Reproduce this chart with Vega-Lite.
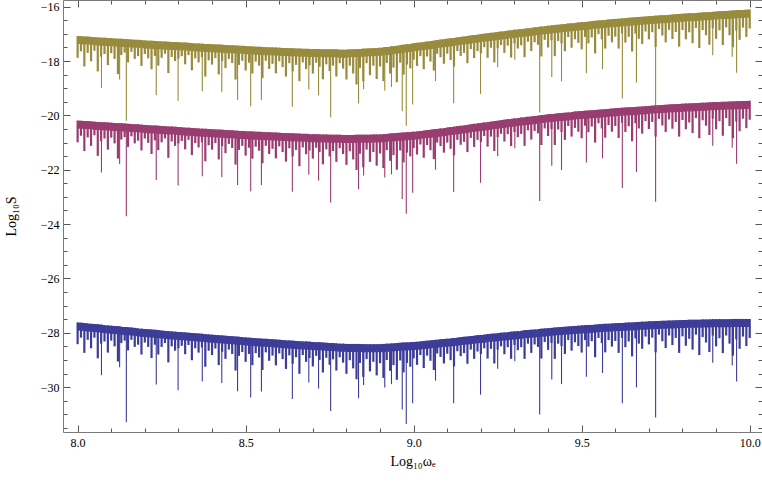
{
"$schema": "https://vega.github.io/schema/vega-lite/v6.json",
"width": 699, "height": 432,
"autosize": {"type": "none"},
"padding": {"left": 63, "top": 0, "right": 0, "bottom": 54},
"background": "white",
"config": {"view": {"stroke": null}, "axis": {"grid": false, "labelFont": "Liberation Serif", "titleFont": "Liberation Serif", "labelFontSize": 12, "titleFontSize": 14, "titleFontWeight": "normal", "labelColor": "#000", "titleColor": "#000", "domainColor": "#7a7a7a", "tickColor": "#555", "labelFlush": false, "labelOverlap": false}},
"datasets": {
"band": [
{"x":8.00,"g":-17.08,"gd":-17.88,"p":-20.19,"pd":-20.99,"b":-27.62,"bd":-28.42},
{"x":8.01,"g":-17.09,"gd":-17.64,"p":-20.20,"pd":-20.75,"b":-27.63,"bd":-28.18},
{"x":8.02,"g":-17.10,"gd":-18.20,"p":-20.21,"pd":-21.31,"b":-27.64,"bd":-28.74},
{"x":8.03,"g":-17.10,"gd":-17.70,"p":-20.21,"pd":-20.81,"b":-27.66,"bd":-28.26},
{"x":8.04,"g":-17.11,"gd":-18.01,"p":-20.22,"pd":-21.12,"b":-27.67,"bd":-28.57},
{"x":8.05,"g":-17.12,"gd":-17.62,"p":-20.23,"pd":-20.73,"b":-27.68,"bd":-28.18},
{"x":8.06,"g":-17.13,"gd":-18.38,"p":-20.24,"pd":-21.49,"b":-27.69,"bd":-28.94},
{"x":8.07,"g":-17.14,"gd":-17.84,"p":-20.25,"pd":-20.95,"b":-27.70,"bd":-28.40},
{"x":8.08,"g":-17.14,"gd":-17.74,"p":-20.25,"pd":-20.85,"b":-27.72,"bd":-28.32},
{"x":8.09,"g":-17.15,"gd":-18.15,"p":-20.26,"pd":-21.26,"b":-27.73,"bd":-28.73},
{"x":8.10,"g":-17.16,"gd":-17.71,"p":-20.27,"pd":-20.82,"b":-27.74,"bd":-28.29},
{"x":8.11,"g":-17.17,"gd":-17.92,"p":-20.28,"pd":-21.03,"b":-27.75,"bd":-28.50},
{"x":8.12,"g":-17.18,"gd":-18.48,"p":-20.29,"pd":-21.59,"b":-27.76,"bd":-29.06},
{"x":8.13,"g":-17.18,"gd":-17.78,"p":-20.29,"pd":-20.89,"b":-27.78,"bd":-28.38},
{"x":8.14,"g":-17.19,"gd":-17.69,"p":-20.30,"pd":-20.80,"b":-27.79,"bd":-28.29},
{"x":8.15,"g":-17.20,"gd":-18.05,"p":-20.31,"pd":-21.16,"b":-27.80,"bd":-28.65},
{"x":8.16,"g":-17.21,"gd":-17.66,"p":-20.32,"pd":-20.77,"b":-27.81,"bd":-28.26},
{"x":8.17,"g":-17.22,"gd":-17.92,"p":-20.33,"pd":-21.03,"b":-27.82,"bd":-28.52},
{"x":8.18,"g":-17.22,"gd":-17.82,"p":-20.33,"pd":-20.93,"b":-27.84,"bd":-28.44},
{"x":8.19,"g":-17.23,"gd":-18.18,"p":-20.34,"pd":-21.29,"b":-27.85,"bd":-28.80},
{"x":8.20,"g":-17.24,"gd":-17.74,"p":-20.35,"pd":-20.85,"b":-27.86,"bd":-28.36},
{"x":8.21,"g":-17.25,"gd":-17.90,"p":-20.36,"pd":-21.01,"b":-27.87,"bd":-28.52},
{"x":8.22,"g":-17.25,"gd":-18.30,"p":-20.37,"pd":-21.42,"b":-27.88,"bd":-28.93},
{"x":8.23,"g":-17.26,"gd":-17.81,"p":-20.37,"pd":-20.92,"b":-27.89,"bd":-28.44},
{"x":8.24,"g":-17.27,"gd":-18.17,"p":-20.38,"pd":-21.28,"b":-27.90,"bd":-28.80},
{"x":8.25,"g":-17.28,"gd":-17.88,"p":-20.39,"pd":-20.99,"b":-27.92,"bd":-28.52},
{"x":8.26,"g":-17.28,"gd":-17.73,"p":-20.40,"pd":-20.85,"b":-27.93,"bd":-28.38},
{"x":8.27,"g":-17.29,"gd":-18.44,"p":-20.41,"pd":-21.56,"b":-27.94,"bd":-29.09},
{"x":8.28,"g":-17.30,"gd":-17.85,"p":-20.41,"pd":-20.96,"b":-27.95,"bd":-28.50},
{"x":8.29,"g":-17.30,"gd":-18.00,"p":-20.42,"pd":-21.12,"b":-27.96,"bd":-28.66},
{"x":8.30,"g":-17.31,"gd":-17.91,"p":-20.43,"pd":-21.03,"b":-27.97,"bd":-28.57},
{"x":8.31,"g":-17.32,"gd":-17.82,"p":-20.44,"pd":-20.94,"b":-27.98,"bd":-28.48},
{"x":8.32,"g":-17.32,"gd":-18.12,"p":-20.45,"pd":-21.25,"b":-27.99,"bd":-28.79},
{"x":8.33,"g":-17.33,"gd":-17.78,"p":-20.45,"pd":-20.90,"b":-28.00,"bd":-28.45},
{"x":8.34,"g":-17.34,"gd":-18.34,"p":-20.46,"pd":-21.46,"b":-28.01,"bd":-29.01},
{"x":8.35,"g":-17.35,"gd":-17.90,"p":-20.47,"pd":-21.02,"b":-28.02,"bd":-28.57},
{"x":8.36,"g":-17.35,"gd":-18.05,"p":-20.48,"pd":-21.18,"b":-28.03,"bd":-28.73},
{"x":8.37,"g":-17.36,"gd":-17.86,"p":-20.49,"pd":-20.99,"b":-28.04,"bd":-28.54},
{"x":8.38,"g":-17.37,"gd":-18.57,"p":-20.49,"pd":-21.69,"b":-28.05,"bd":-29.25},
{"x":8.39,"g":-17.37,"gd":-17.97,"p":-20.50,"pd":-21.10,"b":-28.06,"bd":-28.66},
{"x":8.40,"g":-17.38,"gd":-18.13,"p":-20.51,"pd":-21.26,"b":-28.07,"bd":-28.82},
{"x":8.41,"g":-17.39,"gd":-17.89,"p":-20.52,"pd":-21.02,"b":-28.08,"bd":-28.58},
{"x":8.42,"g":-17.39,"gd":-18.49,"p":-20.52,"pd":-21.62,"b":-28.09,"bd":-29.19},
{"x":8.43,"g":-17.40,"gd":-18.00,"p":-20.53,"pd":-21.13,"b":-28.10,"bd":-28.70},
{"x":8.44,"g":-17.41,"gd":-18.26,"p":-20.54,"pd":-21.39,"b":-28.11,"bd":-28.96},
{"x":8.45,"g":-17.42,"gd":-17.92,"p":-20.55,"pd":-21.05,"b":-28.12,"bd":-28.62},
{"x":8.46,"g":-17.42,"gd":-18.07,"p":-20.55,"pd":-21.20,"b":-28.13,"bd":-28.78},
{"x":8.47,"g":-17.43,"gd":-18.68,"p":-20.56,"pd":-21.81,"b":-28.14,"bd":-29.39},
{"x":8.48,"g":-17.44,"gd":-18.14,"p":-20.57,"pd":-21.27,"b":-28.15,"bd":-28.85},
{"x":8.49,"g":-17.44,"gd":-17.99,"p":-20.57,"pd":-21.12,"b":-28.16,"bd":-28.71},
{"x":8.50,"g":-17.45,"gd":-18.35,"p":-20.58,"pd":-21.48,"b":-28.17,"bd":-29.07},
{"x":8.51,"g":-17.46,"gd":-18.06,"p":-20.59,"pd":-21.19,"b":-28.18,"bd":-28.78},
{"x":8.52,"g":-17.46,"gd":-18.46,"p":-20.59,"pd":-21.59,"b":-28.19,"bd":-29.19},
{"x":8.53,"g":-17.47,"gd":-18.02,"p":-20.60,"pd":-21.15,"b":-28.20,"bd":-28.75},
{"x":8.54,"g":-17.47,"gd":-18.17,"p":-20.60,"pd":-21.30,"b":-28.21,"bd":-28.91},
{"x":8.55,"g":-17.48,"gd":-18.63,"p":-20.61,"pd":-21.76,"b":-28.22,"bd":-29.37},
{"x":8.56,"g":-17.49,"gd":-17.99,"p":-20.62,"pd":-21.12,"b":-28.22,"bd":-28.72},
{"x":8.57,"g":-17.49,"gd":-18.29,"p":-20.62,"pd":-21.42,"b":-28.23,"bd":-29.03},
{"x":8.58,"g":-17.50,"gd":-18.10,"p":-20.63,"pd":-21.23,"b":-28.24,"bd":-28.84},
{"x":8.59,"g":-17.50,"gd":-18.45,"p":-20.63,"pd":-21.58,"b":-28.25,"bd":-29.20},
{"x":8.60,"g":-17.51,"gd":-18.01,"p":-20.64,"pd":-21.14,"b":-28.26,"bd":-28.76},
{"x":8.61,"g":-17.52,"gd":-18.22,"p":-20.65,"pd":-21.35,"b":-28.27,"bd":-28.97},
{"x":8.62,"g":-17.52,"gd":-18.57,"p":-20.65,"pd":-21.70,"b":-28.28,"bd":-29.33},
{"x":8.63,"g":-17.53,"gd":-18.08,"p":-20.66,"pd":-21.21,"b":-28.28,"bd":-28.83},
{"x":8.64,"g":-17.53,"gd":-18.38,"p":-20.66,"pd":-21.51,"b":-28.29,"bd":-29.14},
{"x":8.65,"g":-17.54,"gd":-18.14,"p":-20.67,"pd":-21.27,"b":-28.30,"bd":-28.90},
{"x":8.66,"g":-17.54,"gd":-18.74,"p":-20.67,"pd":-21.87,"b":-28.31,"bd":-29.51},
{"x":8.67,"g":-17.55,"gd":-18.05,"p":-20.68,"pd":-21.18,"b":-28.32,"bd":-28.82},
{"x":8.68,"g":-17.55,"gd":-18.30,"p":-20.68,"pd":-21.43,"b":-28.32,"bd":-29.07},
{"x":8.69,"g":-17.56,"gd":-18.16,"p":-20.69,"pd":-21.29,"b":-28.33,"bd":-28.93},
{"x":8.70,"g":-17.56,"gd":-18.46,"p":-20.69,"pd":-21.59,"b":-28.34,"bd":-29.24},
{"x":8.71,"g":-17.56,"gd":-18.06,"p":-20.69,"pd":-21.19,"b":-28.35,"bd":-28.85},
{"x":8.72,"g":-17.56,"gd":-18.21,"p":-20.70,"pd":-21.35,"b":-28.35,"bd":-29.00},
{"x":8.73,"g":-17.57,"gd":-18.67,"p":-20.70,"pd":-21.80,"b":-28.36,"bd":-29.46},
{"x":8.74,"g":-17.57,"gd":-18.12,"p":-20.70,"pd":-21.25,"b":-28.37,"bd":-28.92},
{"x":8.75,"g":-17.57,"gd":-18.37,"p":-20.71,"pd":-21.51,"b":-28.38,"bd":-29.18},
{"x":8.76,"g":-17.57,"gd":-18.17,"p":-20.71,"pd":-21.31,"b":-28.38,"bd":-28.98},
{"x":8.77,"g":-17.57,"gd":-18.57,"p":-20.71,"pd":-21.71,"b":-28.39,"bd":-29.39},
{"x":8.78,"g":-17.58,"gd":-18.08,"p":-20.71,"pd":-21.21,"b":-28.40,"bd":-28.90},
{"x":8.79,"g":-17.58,"gd":-18.28,"p":-20.72,"pd":-21.42,"b":-28.40,"bd":-29.10},
{"x":8.80,"g":-17.58,"gd":-18.68,"p":-20.72,"pd":-21.82,"b":-28.41,"bd":-29.51},
{"x":8.81,"g":-17.57,"gd":-18.17,"p":-20.72,"pd":-21.32,"b":-28.41,"bd":-29.01},
{"x":8.82,"g":-17.57,"gd":-18.46,"p":-20.72,"pd":-21.62,"b":-28.41,"bd":-29.31},
{"x":8.83,"g":-17.56,"gd":-18.86,"p":-20.71,"pd":-22.01,"b":-28.41,"bd":-29.71},
{"x":8.84,"g":-17.56,"gd":-18.25,"p":-20.71,"pd":-21.41,"b":-28.41,"bd":-29.11},
{"x":8.85,"g":-17.55,"gd":-18.74,"p":-20.71,"pd":-21.91,"b":-28.42,"bd":-29.62},
{"x":8.86,"g":-17.54,"gd":-18.08,"p":-20.71,"pd":-21.26,"b":-28.42,"bd":-28.97},
{"x":8.87,"g":-17.53,"gd":-18.52,"p":-20.71,"pd":-21.71,"b":-28.42,"bd":-29.42},
{"x":8.88,"g":-17.53,"gd":-18.17,"p":-20.70,"pd":-21.35,"b":-28.42,"bd":-29.07},
{"x":8.89,"g":-17.52,"gd":-18.66,"p":-20.70,"pd":-21.85,"b":-28.42,"bd":-29.57},
{"x":8.90,"g":-17.51,"gd":-18.20,"p":-20.70,"pd":-21.40,"b":-28.42,"bd":-29.12},
{"x":8.91,"g":-17.50,"gd":-18.74,"p":-20.69,"pd":-21.94,"b":-28.41,"bd":-29.66},
{"x":8.92,"g":-17.48,"gd":-18.07,"p":-20.68,"pd":-21.28,"b":-28.40,"bd":-29.00},
{"x":8.93,"g":-17.47,"gd":-18.46,"p":-20.67,"pd":-21.67,"b":-28.40,"bd":-29.40},
{"x":8.94,"g":-17.45,"gd":-18.24,"p":-20.66,"pd":-21.46,"b":-28.39,"bd":-29.19},
{"x":8.95,"g":-17.44,"gd":-18.78,"p":-20.65,"pd":-22.00,"b":-28.38,"bd":-29.73},
{"x":8.96,"g":-17.42,"gd":-18.06,"p":-20.64,"pd":-21.29,"b":-28.37,"bd":-29.02},
{"x":8.97,"g":-17.40,"gd":-18.50,"p":-20.63,"pd":-21.73,"b":-28.36,"bd":-29.46},
{"x":8.98,"g":-17.38,"gd":-18.13,"p":-20.62,"pd":-21.37,"b":-28.36,"bd":-29.11},
{"x":8.99,"g":-17.37,"gd":-18.27,"p":-20.61,"pd":-21.51,"b":-28.35,"bd":-29.25},
{"x":9.00,"g":-17.35,"gd":-17.95,"p":-20.60,"pd":-21.20,"b":-28.34,"bd":-28.94},
{"x":9.01,"g":-17.33,"gd":-18.18,"p":-20.59,"pd":-21.44,"b":-28.33,"bd":-29.18},
{"x":9.02,"g":-17.32,"gd":-17.82,"p":-20.57,"pd":-21.07,"b":-28.32,"bd":-28.82},
{"x":9.03,"g":-17.30,"gd":-18.30,"p":-20.56,"pd":-21.56,"b":-28.30,"bd":-29.30},
{"x":9.04,"g":-17.28,"gd":-17.83,"p":-20.54,"pd":-21.09,"b":-28.29,"bd":-28.84},
{"x":9.05,"g":-17.27,"gd":-18.02,"p":-20.53,"pd":-21.28,"b":-28.28,"bd":-29.03},
{"x":9.06,"g":-17.25,"gd":-18.35,"p":-20.51,"pd":-21.61,"b":-28.27,"bd":-29.37},
{"x":9.07,"g":-17.23,"gd":-17.73,"p":-20.50,"pd":-21.00,"b":-28.26,"bd":-28.76},
{"x":9.08,"g":-17.21,"gd":-17.86,"p":-20.48,"pd":-21.13,"b":-28.24,"bd":-28.89},
{"x":9.09,"g":-17.20,"gd":-18.10,"p":-20.47,"pd":-21.37,"b":-28.23,"bd":-29.13},
{"x":9.10,"g":-17.18,"gd":-17.73,"p":-20.45,"pd":-21.00,"b":-28.22,"bd":-28.77},
{"x":9.11,"g":-17.16,"gd":-17.96,"p":-20.43,"pd":-21.23,"b":-28.21,"bd":-29.01},
{"x":9.12,"g":-17.15,"gd":-18.20,"p":-20.42,"pd":-21.47,"b":-28.19,"bd":-29.24},
{"x":9.13,"g":-17.13,"gd":-17.63,"p":-20.40,"pd":-20.90,"b":-28.18,"bd":-28.68},
{"x":9.14,"g":-17.11,"gd":-17.81,"p":-20.38,"pd":-21.08,"b":-28.16,"bd":-28.86},
{"x":9.15,"g":-17.10,"gd":-17.70,"p":-20.37,"pd":-20.97,"b":-28.15,"bd":-28.75},
{"x":9.16,"g":-17.08,"gd":-18.08,"p":-20.35,"pd":-21.35,"b":-28.14,"bd":-29.14},
{"x":9.17,"g":-17.06,"gd":-17.56,"p":-20.33,"pd":-20.83,"b":-28.12,"bd":-28.62},
{"x":9.18,"g":-17.04,"gd":-17.89,"p":-20.31,"pd":-21.16,"b":-28.11,"bd":-28.96},
{"x":9.19,"g":-17.03,"gd":-17.63,"p":-20.30,"pd":-20.90,"b":-28.09,"bd":-28.69},
{"x":9.20,"g":-17.01,"gd":-17.71,"p":-20.28,"pd":-20.98,"b":-28.08,"bd":-28.78},
{"x":9.21,"g":-16.99,"gd":-17.49,"p":-20.26,"pd":-20.76,"b":-28.07,"bd":-28.57},
{"x":9.22,"g":-16.98,"gd":-17.88,"p":-20.25,"pd":-21.15,"b":-28.05,"bd":-28.95},
{"x":9.23,"g":-16.96,"gd":-17.51,"p":-20.23,"pd":-20.78,"b":-28.04,"bd":-28.59},
{"x":9.24,"g":-16.95,"gd":-18.05,"p":-20.21,"pd":-21.31,"b":-28.03,"bd":-29.13},
{"x":9.25,"g":-16.93,"gd":-17.53,"p":-20.20,"pd":-20.80,"b":-28.02,"bd":-28.62},
{"x":9.26,"g":-16.91,"gd":-17.41,"p":-20.18,"pd":-20.68,"b":-28.00,"bd":-28.50},
{"x":9.27,"g":-16.90,"gd":-17.70,"p":-20.16,"pd":-20.96,"b":-27.99,"bd":-28.79},
{"x":9.28,"g":-16.88,"gd":-17.43,"p":-20.14,"pd":-20.69,"b":-27.98,"bd":-28.53},
{"x":9.29,"g":-16.87,"gd":-17.87,"p":-20.13,"pd":-21.13,"b":-27.96,"bd":-28.96},
{"x":9.30,"g":-16.85,"gd":-17.35,"p":-20.11,"pd":-20.61,"b":-27.95,"bd":-28.45},
{"x":9.31,"g":-16.84,"gd":-17.54,"p":-20.10,"pd":-20.80,"b":-27.94,"bd":-28.64},
{"x":9.32,"g":-16.82,"gd":-17.42,"p":-20.08,"pd":-20.68,"b":-27.93,"bd":-28.53},
{"x":9.33,"g":-16.81,"gd":-17.86,"p":-20.07,"pd":-21.12,"b":-27.91,"bd":-28.96},
{"x":9.34,"g":-16.79,"gd":-17.29,"p":-20.05,"pd":-20.55,"b":-27.90,"bd":-28.40},
{"x":9.35,"g":-16.78,"gd":-17.63,"p":-20.04,"pd":-20.89,"b":-27.89,"bd":-28.74},
{"x":9.36,"g":-16.76,"gd":-17.31,"p":-20.02,"pd":-20.57,"b":-27.88,"bd":-28.43},
{"x":9.37,"g":-16.75,"gd":-17.40,"p":-20.01,"pd":-20.66,"b":-27.87,"bd":-28.52},
{"x":9.38,"g":-16.73,"gd":-17.83,"p":-19.99,"pd":-21.09,"b":-27.85,"bd":-28.95},
{"x":9.39,"g":-16.72,"gd":-17.22,"p":-19.98,"pd":-20.48,"b":-27.84,"bd":-28.34},
{"x":9.40,"g":-16.70,"gd":-17.50,"p":-19.96,"pd":-20.76,"b":-27.83,"bd":-28.63},
{"x":9.41,"g":-16.69,"gd":-17.24,"p":-19.95,"pd":-20.50,"b":-27.82,"bd":-28.37},
{"x":9.42,"g":-16.67,"gd":-17.82,"p":-19.94,"pd":-21.09,"b":-27.81,"bd":-28.96},
{"x":9.43,"g":-16.66,"gd":-17.26,"p":-19.92,"pd":-20.52,"b":-27.80,"bd":-28.40},
{"x":9.44,"g":-16.65,"gd":-17.35,"p":-19.91,"pd":-20.61,"b":-27.79,"bd":-28.49},
{"x":9.45,"g":-16.64,"gd":-17.64,"p":-19.90,"pd":-20.90,"b":-27.78,"bd":-28.78},
{"x":9.46,"g":-16.62,"gd":-17.12,"p":-19.89,"pd":-20.39,"b":-27.77,"bd":-28.27},
{"x":9.47,"g":-16.61,"gd":-17.51,"p":-19.88,"pd":-20.78,"b":-27.76,"bd":-28.66},
{"x":9.48,"g":-16.60,"gd":-17.20,"p":-19.86,"pd":-20.46,"b":-27.75,"bd":-28.35},
{"x":9.49,"g":-16.58,"gd":-17.33,"p":-19.85,"pd":-20.60,"b":-27.74,"bd":-28.49},
{"x":9.50,"g":-16.57,"gd":-17.57,"p":-19.84,"pd":-20.84,"b":-27.73,"bd":-28.73},
{"x":9.51,"g":-16.56,"gd":-17.11,"p":-19.83,"pd":-20.38,"b":-27.72,"bd":-28.27},
{"x":9.52,"g":-16.55,"gd":-17.35,"p":-19.82,"pd":-20.62,"b":-27.71,"bd":-28.51},
{"x":9.53,"g":-16.53,"gd":-17.13,"p":-19.81,"pd":-20.41,"b":-27.71,"bd":-28.31},
{"x":9.54,"g":-16.52,"gd":-17.72,"p":-19.80,"pd":-21.00,"b":-27.70,"bd":-28.90},
{"x":9.55,"g":-16.51,"gd":-17.01,"p":-19.79,"pd":-20.29,"b":-27.69,"bd":-28.19},
{"x":9.56,"g":-16.50,"gd":-17.20,"p":-19.78,"pd":-20.48,"b":-27.68,"bd":-28.38},
{"x":9.57,"g":-16.49,"gd":-17.54,"p":-19.77,"pd":-20.82,"b":-27.67,"bd":-28.72},
{"x":9.58,"g":-16.47,"gd":-17.07,"p":-19.76,"pd":-20.36,"b":-27.67,"bd":-28.27},
{"x":9.59,"g":-16.46,"gd":-17.31,"p":-19.75,"pd":-20.60,"b":-27.66,"bd":-28.51},
{"x":9.60,"g":-16.45,"gd":-17.10,"p":-19.74,"pd":-20.39,"b":-27.65,"bd":-28.30},
{"x":9.61,"g":-16.44,"gd":-17.54,"p":-19.73,"pd":-20.83,"b":-27.64,"bd":-28.74},
{"x":9.62,"g":-16.43,"gd":-16.98,"p":-19.72,"pd":-20.27,"b":-27.64,"bd":-28.19},
{"x":9.63,"g":-16.42,"gd":-17.32,"p":-19.71,"pd":-20.61,"b":-27.63,"bd":-28.53},
{"x":9.64,"g":-16.41,"gd":-17.11,"p":-19.70,"pd":-20.40,"b":-27.62,"bd":-28.32},
{"x":9.65,"g":-16.40,"gd":-17.65,"p":-19.70,"pd":-20.95,"b":-27.62,"bd":-28.87},
{"x":9.66,"g":-16.39,"gd":-16.99,"p":-19.69,"pd":-20.29,"b":-27.61,"bd":-28.21},
{"x":9.67,"g":-16.38,"gd":-17.18,"p":-19.68,"pd":-20.48,"b":-27.60,"bd":-28.40},
{"x":9.68,"g":-16.37,"gd":-17.37,"p":-19.67,"pd":-20.67,"b":-27.59,"bd":-28.59},
{"x":9.69,"g":-16.36,"gd":-16.91,"p":-19.66,"pd":-20.21,"b":-27.59,"bd":-28.14},
{"x":9.70,"g":-16.35,"gd":-17.20,"p":-19.65,"pd":-20.50,"b":-27.58,"bd":-28.43},
{"x":9.71,"g":-16.34,"gd":-16.94,"p":-19.64,"pd":-20.24,"b":-27.58,"bd":-28.18},
{"x":9.72,"g":-16.33,"gd":-17.48,"p":-19.63,"pd":-20.78,"b":-27.57,"bd":-28.72},
{"x":9.73,"g":-16.32,"gd":-16.82,"p":-19.63,"pd":-20.13,"b":-27.57,"bd":-28.07},
{"x":9.74,"g":-16.31,"gd":-17.06,"p":-19.62,"pd":-20.37,"b":-27.56,"bd":-28.31},
{"x":9.75,"g":-16.31,"gd":-17.31,"p":-19.61,"pd":-20.61,"b":-27.56,"bd":-28.56},
{"x":9.76,"g":-16.30,"gd":-16.85,"p":-19.60,"pd":-20.15,"b":-27.55,"bd":-28.10},
{"x":9.77,"g":-16.29,"gd":-17.19,"p":-19.59,"pd":-20.49,"b":-27.55,"bd":-28.45},
{"x":9.78,"g":-16.28,"gd":-16.93,"p":-19.59,"pd":-20.24,"b":-27.54,"bd":-28.19},
{"x":9.79,"g":-16.27,"gd":-17.47,"p":-19.58,"pd":-20.78,"b":-27.54,"bd":-28.74},
{"x":9.80,"g":-16.26,"gd":-16.86,"p":-19.57,"pd":-20.17,"b":-27.53,"bd":-28.13},
{"x":9.81,"g":-16.25,"gd":-17.20,"p":-19.56,"pd":-20.51,"b":-27.53,"bd":-28.48},
{"x":9.82,"g":-16.24,"gd":-16.94,"p":-19.56,"pd":-20.26,"b":-27.52,"bd":-28.22},
{"x":9.83,"g":-16.24,"gd":-17.34,"p":-19.55,"pd":-20.65,"b":-27.52,"bd":-28.62},
{"x":9.84,"g":-16.23,"gd":-16.78,"p":-19.55,"pd":-20.10,"b":-27.52,"bd":-28.07},
{"x":9.85,"g":-16.22,"gd":-17.52,"p":-19.54,"pd":-20.84,"b":-27.52,"bd":-28.82},
{"x":9.86,"g":-16.21,"gd":-16.86,"p":-19.53,"pd":-20.18,"b":-27.51,"bd":-28.16},
{"x":9.87,"g":-16.20,"gd":-17.05,"p":-19.53,"pd":-20.38,"b":-27.51,"bd":-28.36},
{"x":9.88,"g":-16.20,"gd":-17.40,"p":-19.52,"pd":-20.72,"b":-27.51,"bd":-28.71},
{"x":9.89,"g":-16.19,"gd":-16.79,"p":-19.52,"pd":-20.12,"b":-27.50,"bd":-28.10},
{"x":9.90,"g":-16.18,"gd":-17.18,"p":-19.51,"pd":-20.51,"b":-27.50,"bd":-28.50},
{"x":9.91,"g":-16.17,"gd":-16.87,"p":-19.51,"pd":-20.21,"b":-27.50,"bd":-28.20},
{"x":9.92,"g":-16.16,"gd":-17.41,"p":-19.50,"pd":-20.75,"b":-27.50,"bd":-28.75},
{"x":9.93,"g":-16.16,"gd":-16.76,"p":-19.50,"pd":-20.10,"b":-27.50,"bd":-28.10},
{"x":9.94,"g":-16.15,"gd":-17.05,"p":-19.49,"pd":-20.39,"b":-27.50,"bd":-28.40},
{"x":9.95,"g":-16.14,"gd":-17.49,"p":-19.49,"pd":-20.84,"b":-27.49,"bd":-28.84},
{"x":9.96,"g":-16.13,"gd":-16.88,"p":-19.48,"pd":-20.23,"b":-27.49,"bd":-28.24},
{"x":9.97,"g":-16.12,"gd":-17.22,"p":-19.48,"pd":-20.58,"b":-27.49,"bd":-28.59},
{"x":9.98,"g":-16.12,"gd":-16.77,"p":-19.47,"pd":-20.12,"b":-27.49,"bd":-28.14},
{"x":9.99,"g":-16.11,"gd":-17.11,"p":-19.47,"pd":-20.47,"b":-27.49,"bd":-28.49},
{"x":10.00,"g":-16.10,"gd":-16.80,"p":-19.46,"pd":-20.16,"b":-27.49,"bd":-28.19}
],
"spikes": [
{"x":8.071,"g":-17.14,"gd":-18.99,"p":-20.25,"pd":-22.10,"b":-27.71,"bd":-29.56},
{"x":8.125,"g":-17.18,"gd":-18.68,"p":-20.29,"pd":-21.79,"b":-27.77,"bd":-29.27},
{"x":8.145,"g":-17.20,"gd":-20.20,"p":-20.31,"pd":-23.71,"b":-27.79,"bd":-31.29},
{"x":8.234,"g":-17.26,"gd":-19.26,"p":-20.38,"pd":-22.38,"b":-27.90,"bd":-29.90},
{"x":8.299,"g":-17.31,"gd":-19.46,"p":-20.43,"pd":-22.58,"b":-27.97,"bd":-30.12},
{"x":8.371,"g":-17.36,"gd":-19.11,"p":-20.49,"pd":-22.24,"b":-28.04,"bd":-29.79},
{"x":8.429,"g":-17.40,"gd":-19.15,"p":-20.53,"pd":-22.28,"b":-28.10,"bd":-29.85},
{"x":8.476,"g":-17.43,"gd":-19.43,"p":-20.56,"pd":-22.56,"b":-28.15,"bd":-30.15},
{"x":8.515,"g":-17.46,"gd":-19.66,"p":-20.59,"pd":-22.79,"b":-28.18,"bd":-30.38},
{"x":8.547,"g":-17.48,"gd":-19.43,"p":-20.61,"pd":-22.56,"b":-28.21,"bd":-30.16},
{"x":8.639,"g":-17.53,"gd":-19.68,"p":-20.66,"pd":-22.81,"b":-28.29,"bd":-30.44},
{"x":8.688,"g":-17.55,"gd":-19.05,"p":-20.68,"pd":-22.18,"b":-28.33,"bd":-29.83},
{"x":8.717,"g":-17.56,"gd":-19.26,"p":-20.70,"pd":-22.40,"b":-28.35,"bd":-30.05},
{"x":8.753,"g":-17.57,"gd":-20.07,"p":-20.71,"pd":-23.21,"b":-28.38,"bd":-30.88},
{"x":8.836,"g":-17.56,"gd":-19.56,"p":-20.72,"pd":-22.72,"b":-28.41,"bd":-30.41},
{"x":8.851,"g":-17.54,"gd":-19.04,"p":-20.71,"pd":-22.21,"b":-28.42,"bd":-29.92},
{"x":8.914,"g":-17.48,"gd":-19.08,"p":-20.69,"pd":-22.29,"b":-28.41,"bd":-30.01},
{"x":8.934,"g":-17.45,"gd":-18.95,"p":-20.67,"pd":-22.17,"b":-28.39,"bd":-29.89},
{"x":8.966,"g":-17.40,"gd":-19.85,"p":-20.63,"pd":-23.08,"b":-28.37,"bd":-30.82},
{"x":8.978,"g":-17.38,"gd":-20.38,"p":-20.62,"pd":-23.62,"b":-28.36,"bd":-31.36},
{"x":8.997,"g":-17.35,"gd":-19.60,"p":-20.60,"pd":-22.85,"b":-28.34,"bd":-30.59},
{"x":9.065,"g":-17.24,"gd":-18.74,"p":-20.50,"pd":-22.00,"b":-28.26,"bd":-29.76},
{"x":9.119,"g":-17.15,"gd":-19.55,"p":-20.42,"pd":-22.82,"b":-28.19,"bd":-30.59},
{"x":9.199,"g":-17.01,"gd":-19.21,"p":-20.28,"pd":-22.48,"b":-28.08,"bd":-30.28},
{"x":9.250,"g":-16.93,"gd":-18.23,"p":-20.20,"pd":-21.50,"b":-28.02,"bd":-29.32},
{"x":9.301,"g":-16.85,"gd":-17.95,"p":-20.11,"pd":-21.21,"b":-27.95,"bd":-29.05},
{"x":9.375,"g":-16.74,"gd":-19.89,"p":-20.00,"pd":-23.15,"b":-27.86,"bd":-31.01},
{"x":9.411,"g":-16.69,"gd":-18.59,"p":-19.95,"pd":-21.85,"b":-27.82,"bd":-29.72},
{"x":9.440,"g":-16.65,"gd":-18.75,"p":-19.91,"pd":-22.01,"b":-27.79,"bd":-29.89},
{"x":9.514,"g":-16.55,"gd":-18.45,"p":-19.83,"pd":-21.73,"b":-27.72,"bd":-29.62},
{"x":9.562,"g":-16.50,"gd":-18.30,"p":-19.78,"pd":-21.58,"b":-27.68,"bd":-29.48},
{"x":9.621,"g":-16.43,"gd":-19.38,"p":-19.72,"pd":-22.67,"b":-27.64,"bd":-30.59},
{"x":9.663,"g":-16.39,"gd":-18.79,"p":-19.68,"pd":-22.08,"b":-27.61,"bd":-30.01},
{"x":9.720,"g":-16.33,"gd":-19.88,"p":-19.63,"pd":-23.18,"b":-27.57,"bd":-31.12},
{"x":9.890,"g":-16.19,"gd":-17.79,"p":-19.52,"pd":-21.12,"b":-27.50,"bd":-29.10},
{"x":9.948,"g":-16.14,"gd":-17.84,"p":-19.49,"pd":-21.19,"b":-27.50,"bd":-29.20},
{"x":9.961,"g":-16.13,"gd":-18.43,"p":-19.48,"pd":-21.78,"b":-27.49,"bd":-29.79}
]
},
"layer": [
{"data": {"name": "band"}, "mark": {"type": "rule", "color": "#998b3d", "strokeWidth": 2.2},
 "encoding": {
  "x": {"field": "x", "type": "quantitative", "scale": {"domain": [7.9565, 10.0366], "nice": false, "zero": false},
   "axis": {"orient": "bottom", "title": "Log₁₀ωₑ", "values": [8,8.1,8.2,8.3,8.4,8.5,8.6,8.7,8.8,8.9,9,9.1,9.2,9.3,9.4,9.5,9.6,9.7,9.8,9.9,10],
    "tickSize": {"condition": {"test": "abs(datum.value*2-round(datum.value*2))<0.001", "value": -7}, "value": -4},
    "labelExpr": "abs(datum.value*2-round(datum.value*2))<0.001 ? format(datum.value,'.1f') : ''",
    "labelPadding": 12, "titlePadding": 3}},
  "y": {"field": "g", "type": "quantitative", "scale": {"domain": [-31.652, -15.753], "nice": false, "zero": false},
   "axis": {"orient": "left", "title": "Log₁₀S", "values": [-31.5,-31,-30.5,-30,-29.5,-29,-28.5,-28,-27.5,-27,-26.5,-26,-25.5,-25,-24.5,-24,-23.5,-23,-22.5,-22,-21.5,-21,-20.5,-20,-19.5,-19,-18.5,-18,-17.5,-17,-16.5,-16],
    "tickSize": {"condition": {"test": "abs(datum.value/2-round(datum.value/2))<0.001", "value": -7}, "value": -4},
    "labelExpr": "abs(datum.value/2-round(datum.value/2))<0.001 ? format(datum.value,'d') : ''",
    "labelPadding": 11, "titlePadding": 22}},
  "y2": {"field": "gd"}}},
{"data": {"name": "band"}, "mark": {"type": "rule", "color": "#993d71", "strokeWidth": 2.2},
 "encoding": {
  "x": {"field": "x", "type": "quantitative", "scale": {"domain": [7.9565, 10.0366], "nice": false, "zero": false},
   "axis": {"orient": "top", "title": null, "labels": false, "values": [8,8.1,8.2,8.3,8.4,8.5,8.6,8.7,8.8,8.9,9,9.1,9.2,9.3,9.4,9.5,9.6,9.7,9.8,9.9,10],
    "tickSize": {"condition": {"test": "abs(datum.value*2-round(datum.value*2))<0.001", "value": -7}, "value": -4}}},
  "y": {"field": "p", "type": "quantitative", "scale": {"domain": [-31.652, -15.753], "nice": false, "zero": false},
   "axis": {"orient": "right", "title": null, "labels": false, "values": [-31.5,-31,-30.5,-30,-29.5,-29,-28.5,-28,-27.5,-27,-26.5,-26,-25.5,-25,-24.5,-24,-23.5,-23,-22.5,-22,-21.5,-21,-20.5,-20,-19.5,-19,-18.5,-18,-17.5,-17,-16.5,-16],
    "tickSize": {"condition": {"test": "abs(datum.value/2-round(datum.value/2))<0.001", "value": -7}, "value": -4}}},
  "y2": {"field": "pd"}}},
{"data": {"name": "band"}, "mark": {"type": "rule", "color": "#3d3d99", "strokeWidth": 2.2},
 "encoding": {
  "x": {"field": "x", "type": "quantitative", "scale": {"domain": [7.9565, 10.0366], "nice": false, "zero": false}, "axis": null},
  "y": {"field": "b", "type": "quantitative", "scale": {"domain": [-31.652, -15.753], "nice": false, "zero": false}, "axis": null},
  "y2": {"field": "bd"}}},
{"data": {"name": "band"}, "mark": {"type": "line", "color": "#998b3d", "strokeWidth": 8, "yOffset": 4, "strokeCap": "butt"},
 "encoding": {
  "x": {"field": "x", "type": "quantitative", "scale": {"domain": [7.9565, 10.0366], "nice": false, "zero": false}, "axis": null},
  "y": {"field": "g", "type": "quantitative", "scale": {"domain": [-31.652, -15.753], "nice": false, "zero": false}, "axis": null}}},
{"data": {"name": "band"}, "mark": {"type": "line", "color": "#993d71", "strokeWidth": 8, "yOffset": 4, "strokeCap": "butt"},
 "encoding": {
  "x": {"field": "x", "type": "quantitative", "scale": {"domain": [7.9565, 10.0366], "nice": false, "zero": false}, "axis": null},
  "y": {"field": "p", "type": "quantitative", "scale": {"domain": [-31.652, -15.753], "nice": false, "zero": false}, "axis": null}}},
{"data": {"name": "band"}, "mark": {"type": "line", "color": "#3d3d99", "strokeWidth": 8, "yOffset": 4, "strokeCap": "butt"},
 "encoding": {
  "x": {"field": "x", "type": "quantitative", "scale": {"domain": [7.9565, 10.0366], "nice": false, "zero": false}, "axis": null},
  "y": {"field": "b", "type": "quantitative", "scale": {"domain": [-31.652, -15.753], "nice": false, "zero": false}, "axis": null}}},
{"data": {"name": "spikes"}, "mark": {"type": "rule", "color": "#998b3d", "strokeWidth": 1.1},
 "encoding": {
  "x": {"field": "x", "type": "quantitative", "scale": {"domain": [7.9565, 10.0366], "nice": false, "zero": false}, "axis": null},
  "y": {"field": "g", "type": "quantitative", "scale": {"domain": [-31.652, -15.753], "nice": false, "zero": false}, "axis": null},
  "y2": {"field": "gd"}}},
{"data": {"name": "spikes"}, "mark": {"type": "rule", "color": "#993d71", "strokeWidth": 1.1},
 "encoding": {
  "x": {"field": "x", "type": "quantitative", "scale": {"domain": [7.9565, 10.0366], "nice": false, "zero": false}, "axis": null},
  "y": {"field": "p", "type": "quantitative", "scale": {"domain": [-31.652, -15.753], "nice": false, "zero": false}, "axis": null},
  "y2": {"field": "pd"}}},
{"data": {"name": "spikes"}, "mark": {"type": "rule", "color": "#3d3d99", "strokeWidth": 1.1},
 "encoding": {
  "x": {"field": "x", "type": "quantitative", "scale": {"domain": [7.9565, 10.0366], "nice": false, "zero": false}, "axis": null},
  "y": {"field": "b", "type": "quantitative", "scale": {"domain": [-31.652, -15.753], "nice": false, "zero": false}, "axis": null},
  "y2": {"field": "bd"}}}
],
"resolve": {"axis": {"x": "independent", "y": "independent"}}
}
